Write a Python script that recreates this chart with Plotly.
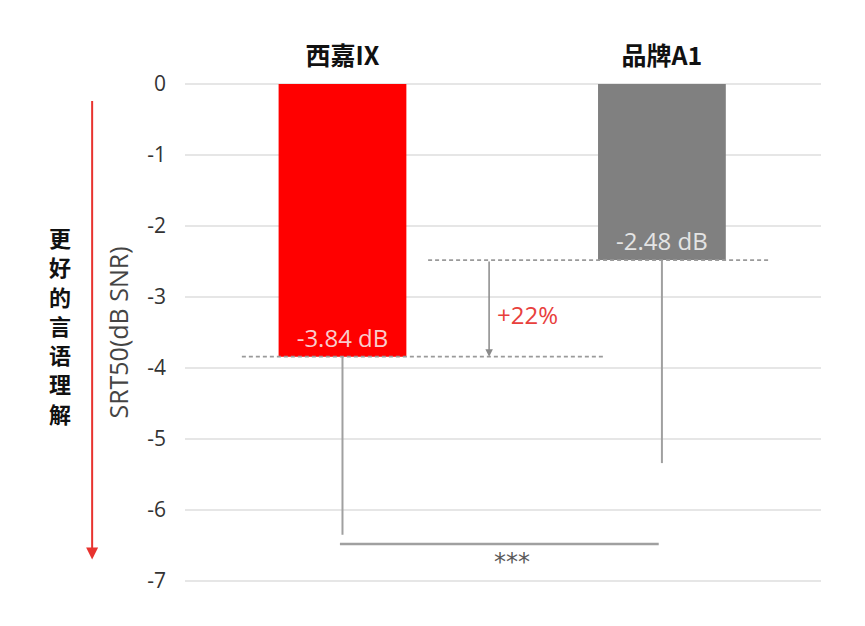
import plotly.graph_objects as go

categories = ["西嘉IX", "品牌A1"]
srt50 = [-3.84, -2.48]
err_low = [-6.35, -5.34]
bar_labels = ["-3.84 dB", "-2.48 dB"]
bar_colors = ["#ff0000", "#808080"]
label_colors = ["#f9cccc", "#e4e4e4"]
y_ticks = [0, -1, -2, -3, -4, -5, -6, -7]
y_tick_labels = ["0", "-1", "-2", "-3", "-4", "-5", "-6", "-7"]
improvement = "+22%"
significance = "***"
bracket_level = -6.48
side_label = "更好的言语理解"

minus_err = [v - lo for v, lo in zip(srt50, err_low)]

fig = go.Figure()
fig.add_trace(go.Bar(
    x=categories, y=srt50, width=0.4,
    marker=dict(color=bar_colors, line=dict(width=0)),
    text=bar_labels, textposition="inside", insidetextanchor="end",
    textangle=0,
    textfont=dict(family="Open Sans", size=24, color=label_colors),
    error_y=dict(type="data", symmetric=False, array=[0, 0], arrayminus=minus_err,
                 color="#a0a0a0", thickness=2, width=0),
    hoverinfo="skip",
))

dash_col = "#9a9a9a"
fig.add_shape(type="line", xref="x", yref="y", x0=-0.315, x1=0.82, y0=srt50[0], y1=srt50[0],
              line=dict(color=dash_col, width=1.8, dash="4px,3px"), layer="above")
fig.add_shape(type="line", xref="x", yref="y", x0=0.268, x1=1.34, y0=srt50[1], y1=srt50[1],
              line=dict(color=dash_col, width=1.8, dash="4px,3px"), layer="above")
fig.add_annotation(x=0.459, y=srt50[0], ax=0.459, ay=srt50[1], xref="x", yref="y",
                   axref="x", ayref="y", text="", showarrow=True, arrowhead=2,
                   arrowsize=1, arrowwidth=1.5, arrowcolor="#8a8a8a")
fig.add_annotation(x=0.477, y=-3.25, xref="x", yref="y", text=improvement, showarrow=False,
                   xanchor="left", font=dict(family="Open Sans", size=24, color="#e8403c"))
fig.add_shape(type="line", xref="x", yref="y", x0=-0.008, x1=0.99, y0=bracket_level, y1=bracket_level,
              line=dict(color="#a0a0a0", width=2.5))
fig.add_annotation(x=0.53, y=-6.73, xref="x", yref="y", text=significance, showarrow=False,
                   font=dict(family="DejaVu Sans", size=24, color="#5a5a5a"))
fig.add_annotation(x=-0.146, y=-6.70, xref="paper", yref="y", text="", showarrow=True,
                   ax=0, ay=-460, arrowhead=2, arrowsize=1.2, arrowwidth=2, arrowcolor="#e8332f")
for i, ch in enumerate(side_label):
    fig.add_annotation(x=-0.197, y=-(237 + 29.3 * i - 84) / 71.0, xref="paper", yref="y",
                       xanchor="center", yanchor="middle",
                       text=ch, showarrow=False,
                       font=dict(family="Noto Sans CJK SC", size=22, color="#111111", weight="bold"))

fig.update_layout(
    width=865, height=626,
    margin=dict(l=177, r=52, t=69, b=46),
    plot_bgcolor="white", paper_bgcolor="white",
    showlegend=False,
    xaxis=dict(side="top", range=[-0.493, 1.498], showgrid=False, zeroline=False,
               showline=False, ticks="", ticklabelstandoff=6,
               tickfont=dict(family="Noto Sans CJK SC", size=25, color="#111111", weight="bold")),
    yaxis=dict(range=[-7.1, 0.1], tickvals=y_ticks, ticktext=y_tick_labels,
               showgrid=True, gridcolor="#e6e6e6", gridwidth=2, zeroline=False,
               showline=False, ticks="", ticklabelstandoff=18,
               tickfont=dict(family="Open Sans", size=21, color="#333333"),
               title=dict(text="SRT50(dB SNR)", standoff=11,
                          font=dict(family="Open Sans", size=25, color="#444444"))),
)

fig.write_html("out.html")
